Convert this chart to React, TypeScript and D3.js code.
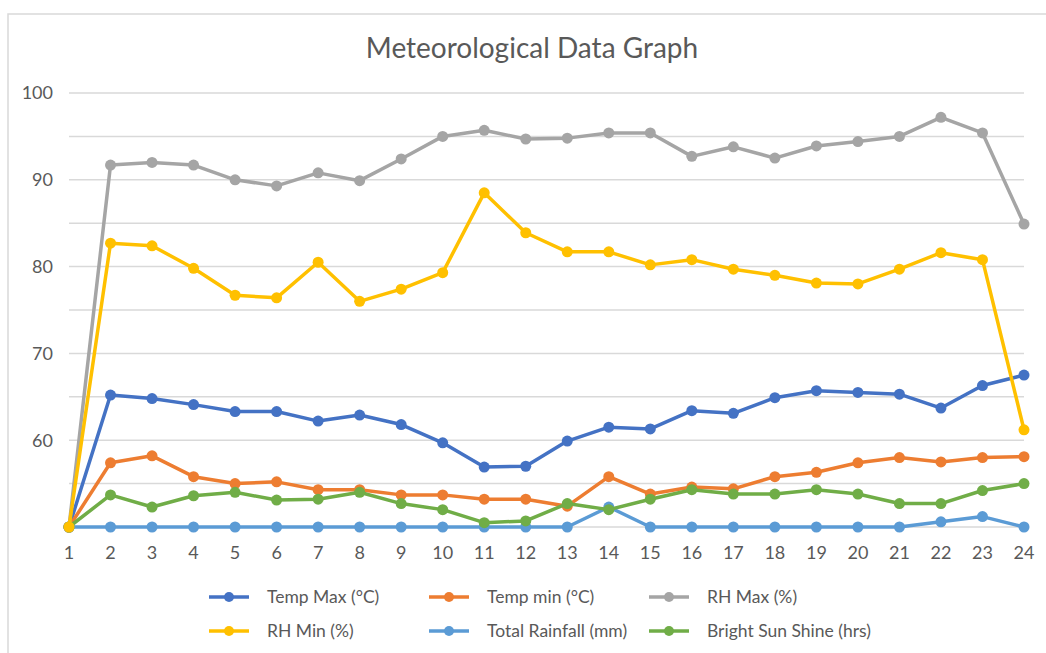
import * as d3 from 'd3';
import React from 'react';

// days on the x axis
const days = d3.range(1, 25);

// series values (chart units)
const tempMax = [50, 65.2, 64.8, 64.1, 63.3, 63.3, 62.2, 62.9, 61.8, 59.7, 56.9, 57.0, 59.9, 61.5, 61.3, 63.4, 63.1, 64.9, 65.7, 65.5, 65.3, 63.7, 66.3, 67.5];
const tempMin = [50, 57.4, 58.2, 55.8, 55.0, 55.2, 54.3, 54.3, 53.7, 53.7, 53.2, 53.2, 52.4, 55.8, 53.8, 54.6, 54.4, 55.8, 56.3, 57.4, 58.0, 57.5, 58.0, 58.1];
const rhMax = [50, 91.7, 92.0, 91.7, 90.0, 89.3, 90.8, 89.9, 92.4, 95.0, 95.7, 94.7, 94.8, 95.4, 95.4, 92.7, 93.8, 92.5, 93.9, 94.4, 95.0, 97.2, 95.4, 84.9];
const rhMin = [50, 82.7, 82.4, 79.8, 76.7, 76.4, 80.5, 76.0, 77.4, 79.3, 88.5, 83.9, 81.7, 81.7, 80.2, 80.8, 79.7, 79.0, 78.1, 78.0, 79.7, 81.6, 80.8, 61.2];
const rainfall = [50, 50, 50, 50, 50, 50, 50, 50, 50, 50, 50, 50, 50, 52.3, 50, 50, 50, 50, 50, 50, 50, 50.6, 51.2, 50];
const sunShine = [50, 53.7, 52.3, 53.6, 54.0, 53.1, 53.2, 54.0, 52.7, 52.0, 50.5, 50.7, 52.7, 52.0, 53.2, 54.3, 53.8, 53.8, 54.3, 53.8, 52.7, 52.7, 54.2, 55.0];

const yTicks = [60, 70, 80, 90, 100];
const yGrid = d3.range(50, 101, 5);

const series = [
  { name: 'Temp Max (°C)', values: tempMax, color: '#4472C4' },
  { name: 'Temp min (°C)', values: tempMin, color: '#ED7D31' },
  { name: 'RH Max (%)', values: rhMax, color: '#A5A5A5' },
  { name: 'RH Min (%)', values: rhMin, color: '#FFC000' },
  { name: 'Total Rainfall (mm)', values: rainfall, color: '#5B9BD5' },
  { name: 'Bright Sun Shine (hrs)', values: sunShine, color: '#70AD47' },
];

// draw order: yellow last so it sits on top at day 1
const drawOrder = [0, 1, 2, 4, 5, 3];

const W = 1046;
const H = 653;
const font = 'Lato, "Liberation Sans", Arial, sans-serif';
const textColor = '#595959';

export default function App() {
  const x = d3.scalePoint<number>().domain(days).range([69, 1024]);
  const y = d3.scaleLinear().domain([50, 100]).range([527, 93]);
  const line = d3.line<number>()
    .x((_, i) => x(days[i]) as number)
    .y((d) => y(d));

  const legendCols = [209, 429, 649];
  const legendRows = [597, 631];

  return (
    <div style={{ position: 'absolute', left: 0, top: 0 }}>
      <svg width={W} height={H} style={{ display: 'block', background: '#fff' }}>
        <rect x={8} y={14} width={W + 10} height={H + 10} fill="#fff" stroke="#d9d9d9" strokeWidth={1.5} />
        <text x={532} y={58} textAnchor="middle" fontFamily={font} fontSize={28} fill={textColor}>
          Meteorological Data Graph
        </text>

        {/* gridlines */}
        {yGrid.map((v) => (
          <line key={v} x1={69} x2={1024} y1={y(v)} y2={y(v)} stroke="#d9d9d9" strokeWidth={1.5} />
        ))}

        {/* y tick labels */}
        {yTicks.map((v) => (
          <text key={v} x={53} y={y(v)} dy="0.35em" textAnchor="end" fontFamily={font} fontSize={18} fill={textColor}>
            {v}
          </text>
        ))}

        {/* x tick labels */}
        {days.map((d) => (
          <text key={d} x={x(d)} y={553} dy="0.35em" textAnchor="middle" fontFamily={font} fontSize={18} fill={textColor}>
            {d}
          </text>
        ))}

        {/* series */}
        {drawOrder.map((si) => {
          const s = series[si];
          return (
            <g key={s.name}>
              <path d={line(s.values) || ''} fill="none" stroke={s.color} strokeWidth={3.5} strokeLinejoin="round" strokeLinecap="round" />
              {s.values.map((v, i) => (
                <circle key={i} cx={x(days[i])} cy={y(v)} r={5.5} fill={s.color} />
              ))}
            </g>
          );
        })}

        {/* legend */}
        {series.map((s, i) => {
          const lx = legendCols[i % 3];
          const ly = legendRows[Math.floor(i / 3)];
          return (
            <g key={s.name}>
              <line x1={lx} x2={lx + 40} y1={ly} y2={ly} stroke={s.color} strokeWidth={3.5} />
              <circle cx={lx + 20} cy={ly} r={5} fill={s.color} />
              <text x={lx + 58} y={ly} dy="0.35em" fontFamily={font} fontSize={17.5} fill={textColor}>
                {s.name}
              </text>
            </g>
          );
        })}
      </svg>
    </div>
  );
}
